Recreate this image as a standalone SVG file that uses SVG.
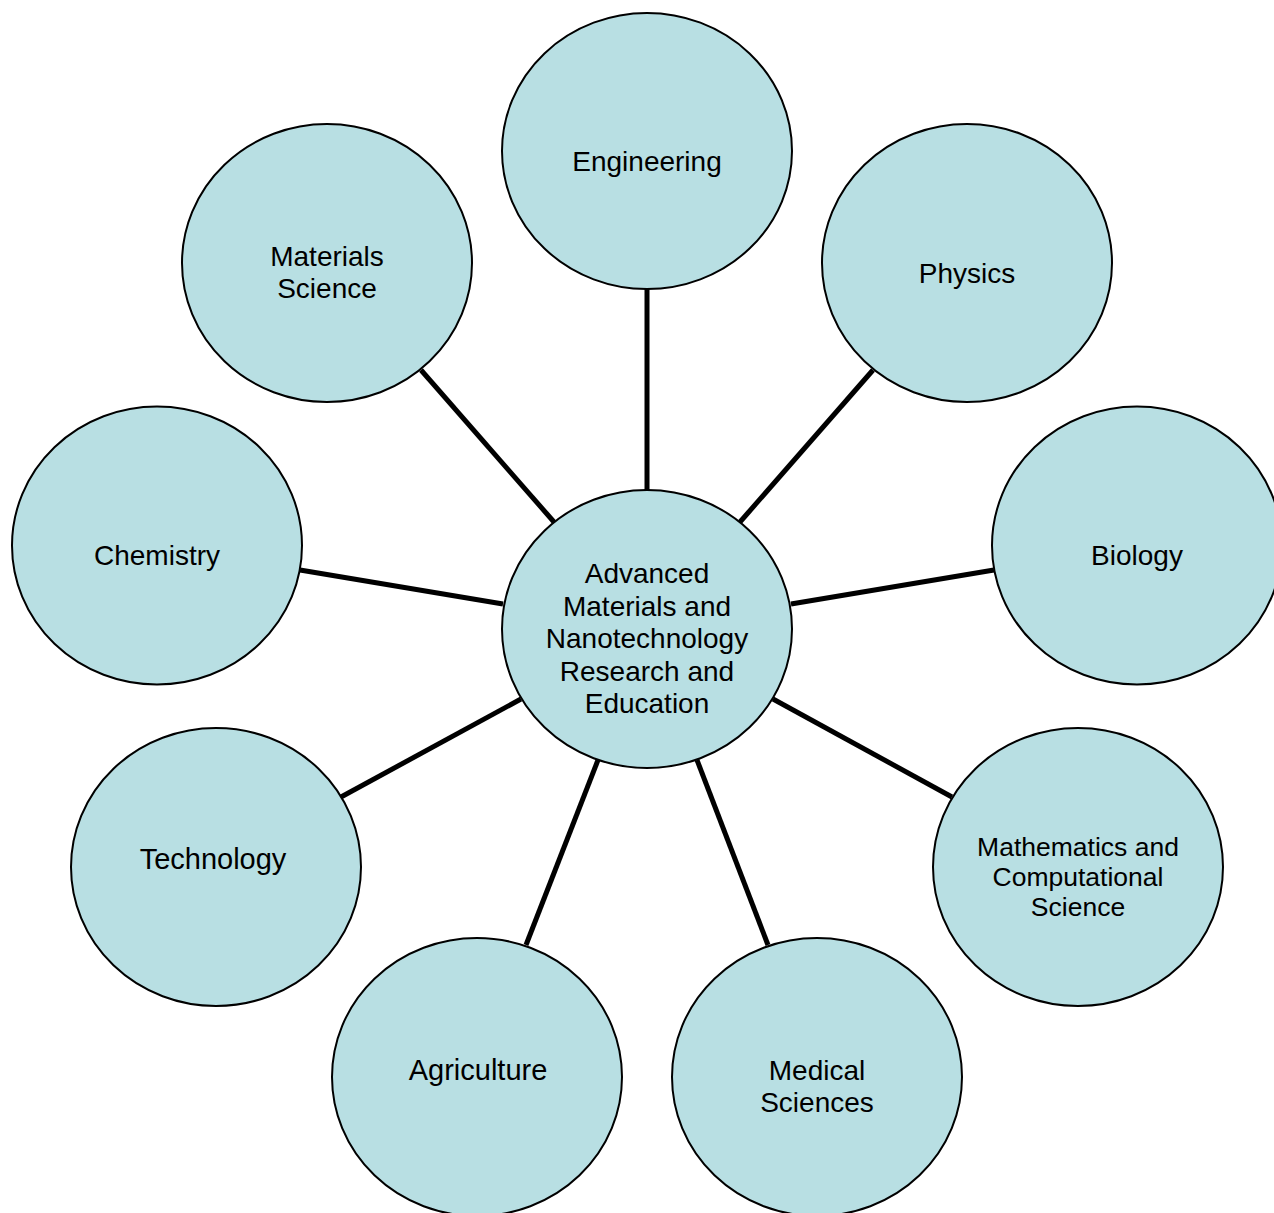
<svg xmlns="http://www.w3.org/2000/svg" width="1274" height="1213" viewBox="0 0 1274 1213">
<style>
.node ellipse{fill:#B8DFE3;stroke:#000;stroke-width:2}
.node text{font-family:"Liberation Sans",Arial,sans-serif;font-size:28px;fill:#000;text-anchor:middle}
.node text.sm{font-size:26.5px}
.node text.lg{font-size:29px}
.conn line{stroke:#000;stroke-width:5}
</style>
<rect width="1274" height="1213" fill="#fff"/>
<g id="connectors" class="conn">
<line x1="647" y1="289" x2="647" y2="491"/>
<line x1="873" y1="370" x2="740" y2="522"/>
<line x1="421" y1="370" x2="554" y2="522"/>
<line x1="300" y1="570" x2="503" y2="604"/>
<line x1="994" y1="570" x2="791" y2="604"/>
<line x1="341" y1="797" x2="521" y2="699"/>
<line x1="952" y1="797" x2="773" y2="699"/>
<line x1="526" y1="945" x2="598" y2="760"/>
<line x1="768" y1="945" x2="697" y2="760"/>
</g>
<g id="engineering" class="node"><ellipse cx="647" cy="151" rx="145" ry="138"/><text x="647" y="171">Engineering</text></g>
<g id="physics" class="node"><ellipse cx="967" cy="263" rx="145" ry="139"/><text x="967" y="283">Physics</text></g>
<g id="materials-science" class="node"><ellipse cx="327" cy="263" rx="145" ry="139"/><text x="327" y="266">Materials</text><text x="327" y="298">Science</text></g>
<g id="chemistry" class="node"><ellipse cx="157" cy="545.5" rx="145" ry="139"/><text x="157" y="565">Chemistry</text></g>
<g id="biology" class="node"><ellipse cx="1137" cy="545.5" rx="145" ry="139"/><text x="1137" y="565">Biology</text></g>
<g id="technology" class="node"><ellipse cx="216" cy="867" rx="145" ry="139"/><text class="lg" x="213" y="869">Technology</text></g>
<g id="mathematics" class="node"><ellipse cx="1078" cy="867" rx="145" ry="139"/><text class="sm" x="1078" y="856">Mathematics and</text><text class="sm" x="1078" y="886">Computational</text><text class="sm" x="1078" y="916">Science</text></g>
<g id="agriculture" class="node"><ellipse cx="477" cy="1077" rx="145" ry="139"/><text class="lg" x="478" y="1080">Agriculture</text></g>
<g id="medical-sciences" class="node"><ellipse cx="817" cy="1077" rx="145" ry="139"/><text x="817" y="1080">Medical</text><text x="817" y="1112">Sciences</text></g>
<g id="center" class="node"><ellipse cx="647" cy="629" rx="145" ry="139"/>
<text x="647" y="583">Advanced</text><text x="647" y="616">Materials and</text><text x="647" y="648">Nanotechnology</text><text x="647" y="681">Research and</text><text x="647" y="713">Education</text></g>
</svg>
